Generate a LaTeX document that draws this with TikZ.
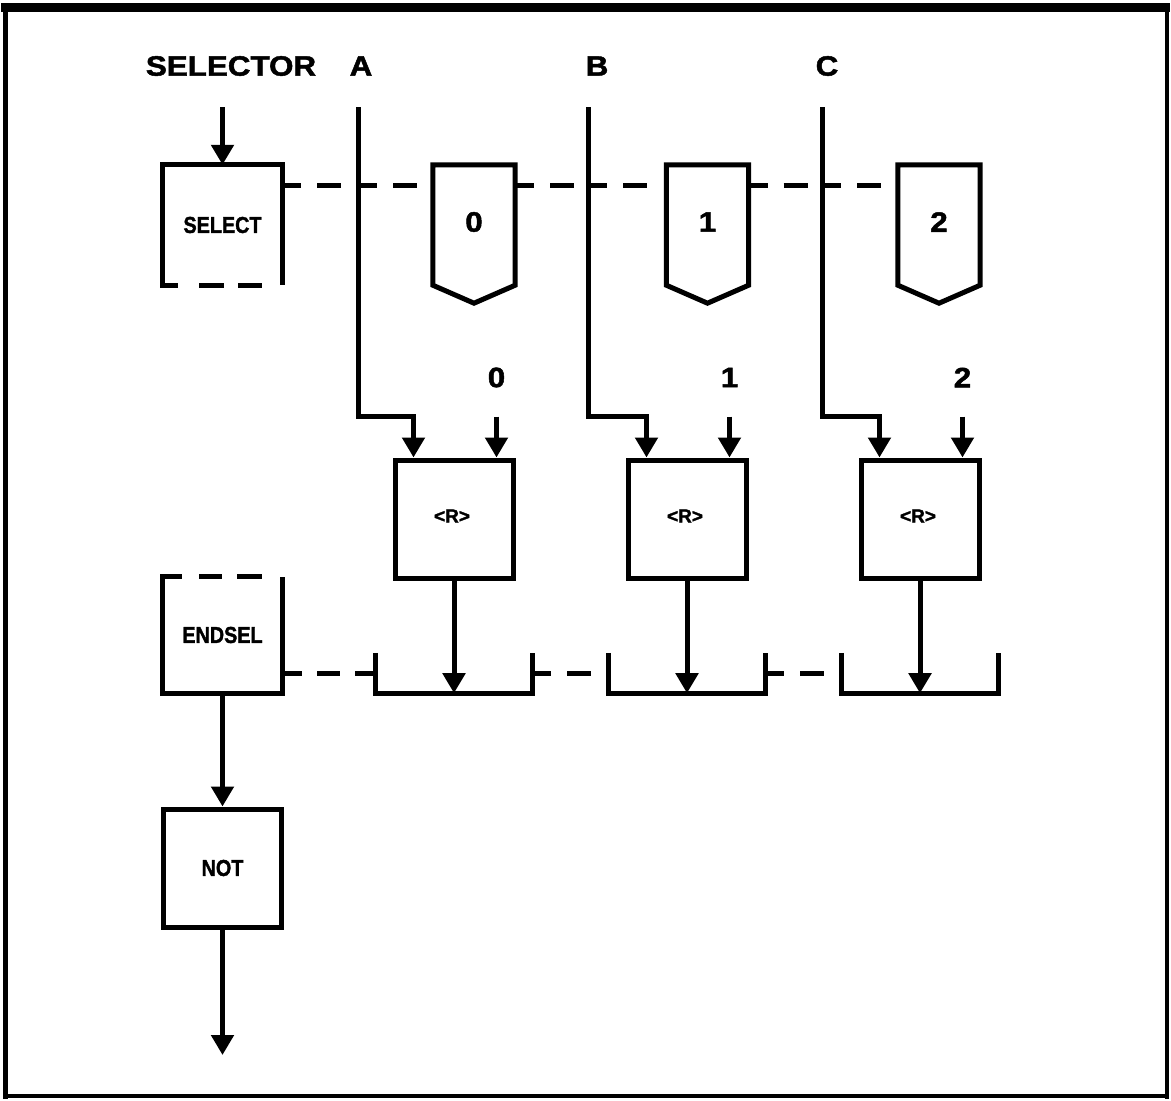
\documentclass[tikz,border=0pt]{standalone}
\usepackage{fontspec}
\usepackage{graphicx}
\setmainfont{Liberation Sans}
\newfontfamily\heavy{Liberation Sans Bold}[FakeBold=1.6]
\usetikzlibrary{arrows.meta,calc}
\newcommand{\bigtxt}[1]{\scalebox{1.12}[1]{#1}}
\newcommand{\boxtxt}[1]{\scalebox{0.86}[1]{#1}}
\begin{document}
\begin{tikzpicture}[x=1pt,y=-1pt,
  conn/.style={line width=5pt, line join=miter},
  arr/.style={conn,-{Triangle[width=22pt,length=20pt]}},
  dsh/.style={conn,dash pattern=on 19pt off 16pt on 24pt off 40pt},
  dshlong/.style={conn,dash pattern=on 20pt off 15pt on 23pt off 15pt on 25pt off 40pt},
  big/.style={font=\heavy\fontsize{28}{28}\selectfont, inner sep=0pt},
  small/.style={font=\heavy\fontsize{23}{23}\selectfont},
  blk/.style={draw=none, minimum width=119pt, minimum height=#1, inner sep=0pt, small},
  box/.style={draw, line width=5pt, minimum width=118pt, minimum height=118pt, inner sep=0pt},
  pent/.style={draw=none, minimum width=82pt, minimum height=138pt, inner sep=0pt},
  brk/.style={draw=none, minimum width=156pt, minimum height=40pt, inner sep=0pt},
  rtxt/.style={font=\heavy\fontsize{19}{19}\selectfont}
]
\useasboundingbox (0,0) rectangle (1171,1101);
% frame
\draw[line width=9pt] (1,7) -- (1170,7);
\draw[line width=5pt] (5,3) -- (5,1099);
\draw[line width=4pt] (1167,3) -- (1167,1099);
\draw[line width=4pt] (3,1096) -- (1169,1096);

% top labels
\node[big] (lsel) at (231,66) {\bigtxt{SELECTOR}};
\node[big] (la) at (361,66) {\bigtxt{A}};
\node[big] (lb) at (597,66) {\bigtxt{B}};
\node[big] (lc) at (827,66) {\bigtxt{C}};

\coordinate (selin) at (222.5,107);
\coordinate (atop) at (358,107);
\coordinate (btop) at (588,107);
\coordinate (ctop) at (822,107);

% SELECT block
\node[blk=120pt] (sel) at (222.5,225) {\boxtxt{SELECT}};
\draw[conn] (sel.south west) -- (sel.north west) -- (sel.north east) -- (sel.south east);
\draw[conn, dash pattern=on 18pt off 21pt on 25pt off 14pt on 24pt off 40pt]
  ($(sel.south west)+(-2.5,0)$) -- (sel.south east);
\draw[arr] (selin) -- (sel.north);

% pentagon boxes
\foreach \i/\x in {0/474,1/707.5,2/939}{
  \node[pent] (p\i) at (\x,234) {};
  \draw[conn] (p\i.north west) -- (p\i.north east) -- ($(p\i.south east)+(0,-18)$)
     -- (p\i.south) -- ($(p\i.south west)+(0,-18)$) -- cycle;
  \node[big] (t\i) at ($(p\i.center)+(0,-12)$) {\bigtxt{\i}};
}

% dashed link on top
\coordinate (s0) at ($(sel.north east)+(0,21)$);
\draw[dsh] (s0) -- (s0 -| atop);
\draw[dsh] (s0 -| atop) -- (s0 -| p0.west);
\draw[dsh] (s0 -| p0.east) -- (s0 -| btop);
\draw[dsh] (s0 -| btop) -- (s0 -| p1.west);
\draw[dsh] (s0 -| p1.east) -- (s0 -| ctop);
\draw[dsh] (s0 -| ctop) -- (s0 -| p2.west);

% <R> boxes
\node[box] (r0) at (454,519) {};
\node[box] (r1) at (687,519) {};
\node[box] (r2) at (920,519) {};
\foreach \i in {0,1,2}{
  \node[rtxt] (rt\i) at ($(r\i.center)+(-2,-3)$) {<R>};
  \node[big] (n\i) at ($(r\i.north east)+(-19,-80)$) {\bigtxt{\i}};
  \draw[arr] ($(r\i.north east)+(-19,-41)$) -- ($(r\i.north east)+(-19,0)$);
}
\draw[arr] (atop) |- ($(r0.north west)+(21,-41)$) -- ($(r0.north west)+(21,0)$);
\draw[arr] (btop) |- ($(r1.north west)+(21,-41)$) -- ($(r1.north west)+(21,0)$);
\draw[arr] (ctop) |- ($(r2.north west)+(21,-41)$) -- ($(r2.north west)+(21,0)$);

% brackets
\node[brk] (k0) at (454,673) {};
\node[brk] (k1) at (687,673) {};
\node[brk] (k2) at (920,673) {};
\foreach \i in {0,1,2}{
  \draw[conn] (k\i.north west) -- (k\i.south west) -- (k\i.south east) -- (k\i.north east);
  \draw[arr] (r\i.south) -- (k\i.south);
}

% ENDSEL block
\node[blk=116pt] (en) at (222.5,635) {\boxtxt{ENDSEL}};
\draw[conn] (en.north west) -- (en.south west) -- (en.south east) -- (en.north east);
\draw[conn, dash pattern=on 22pt off 17pt on 23pt off 15pt on 25pt off 40pt]
  ($(en.north west)+(-2.5,0)$) -- (en.north east);

\draw[dshlong] (en.east |- k0.west) -- (k0.west);
\draw[dsh] (k0.east) -- (k1.west);
\draw[dsh] (k1.east) -- (k2.west);

% NOT block
\node[box, small] (nt) at (222.5,868) {\boxtxt{NOT}};
\draw[arr] (en.south) -- (nt.north);
\coordinate (out) at (222.5,1055);
\draw[arr] (nt.south) -- (out);
\end{tikzpicture}
\end{document}
